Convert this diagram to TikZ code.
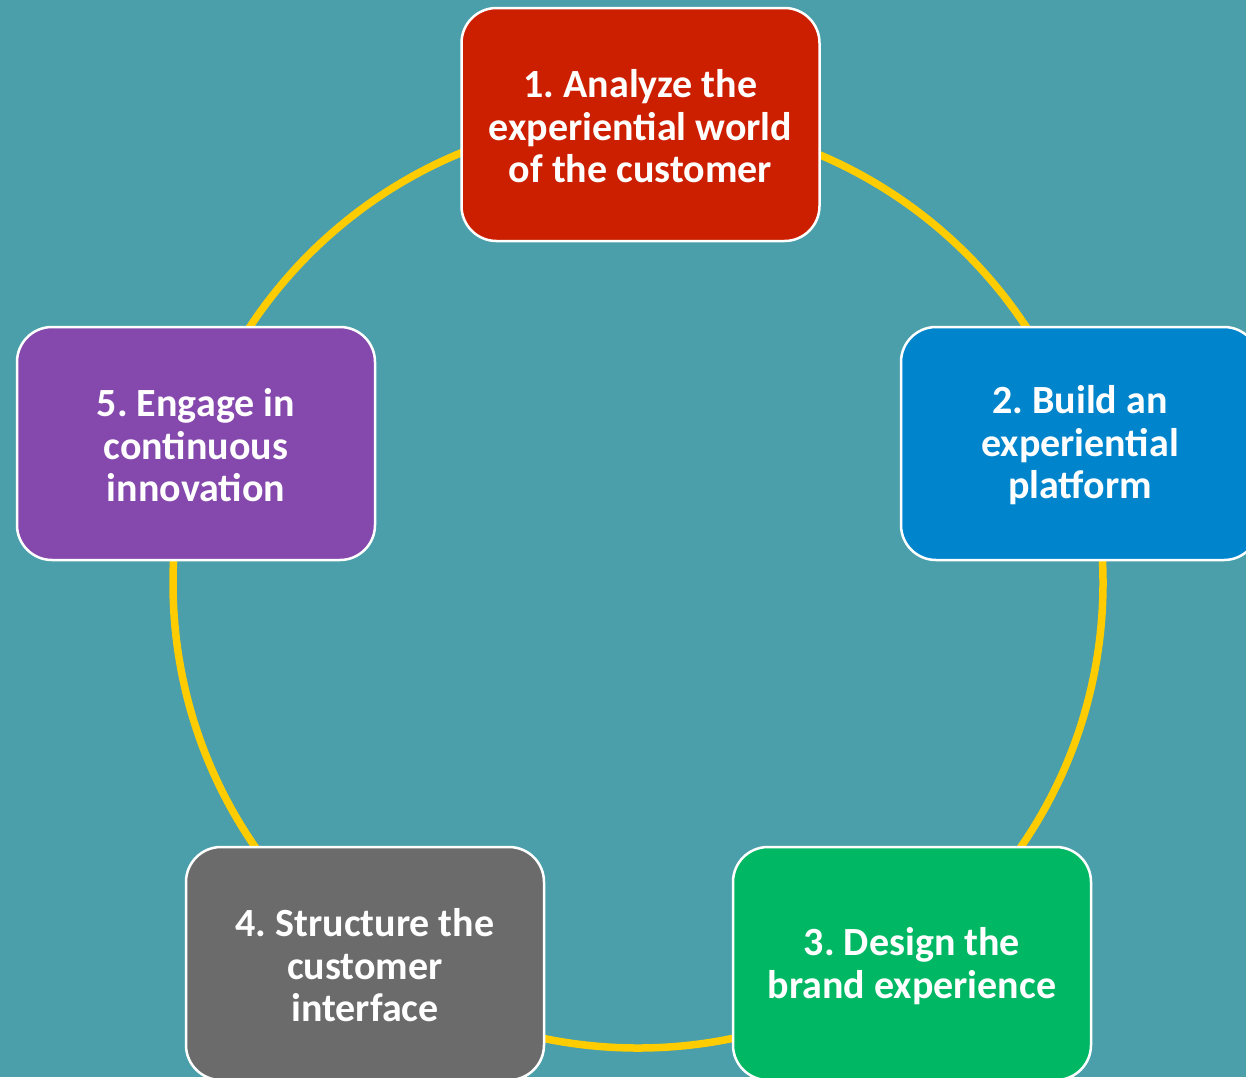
\documentclass[tikz,border=0pt]{standalone}
\usepackage{fontspec}
\setmainfont{Carlito}
\frenchspacing
\definecolor{bgteal}{HTML}{4A9FAA}
\definecolor{ringyellow}{HTML}{FFCC00}
\definecolor{boxred}{HTML}{CC1F00}
\definecolor{boxblue}{HTML}{0085CC}
\definecolor{boxgreen}{HTML}{00B863}
\definecolor{boxgrey}{HTML}{6B6B6B}
\definecolor{boxpurple}{HTML}{8549AD}
\begin{document}
\begin{tikzpicture}[x=1pt,y=-1pt,
  stepbox/.style={draw=white, line width=2.5pt, rounded corners=35pt,
    minimum width=358pt, minimum height=233pt, inner sep=0pt,
    text=white, align=center,
    font=\fontsize{40}{42.5}\selectfont\bfseries\frenchspacing},
  ring/.style={draw=ringyellow, line width=7.5pt}]
\useasboundingbox (0,0) rectangle (1246,1077);
\clip (0,0) rectangle (1246,1077);
\fill[bgteal] (0,0) rectangle (1246,1077);
\coordinate (c) at (638,583);
\draw[ring] (c) circle[radius=465pt];
\node[stepbox, fill=boxred] (s1) at (640.5,124.5) {};
\node[text=white, align=center, font=\fontsize{40}{42.5}\selectfont\bfseries] (t1) at (640.5,126.5) {1. Analyze the\\experiential world\\of the customer};
\node[stepbox, fill=boxblue] (s2) at (1080,443.5) {};
\node[text=white, align=center, font=\fontsize{40}{42.5}\selectfont\bfseries] (t2) at (1080,445.5) {2. Build an\\experiential\\platform};
\node[stepbox, fill=boxgreen] (s3) at (912,963.5) {};
\node[text=white, align=center, font=\fontsize{40}{42.5}\selectfont\bfseries] (t3) at (912,966) {3. Design the\\brand experience};
\node[stepbox, fill=boxgrey] (s4) at (365,963.5) {};
\node[text=white, align=center, font=\fontsize{40}{42.5}\selectfont\bfseries] (t4) at (365,965.5) {4. Structure the\\customer\\interface};
\node[stepbox, fill=boxpurple] (s5) at (196,443.5) {};
\node[text=white, align=center, font=\fontsize{40}{42.5}\selectfont\bfseries] (t5) at (196,445.5) {5. Engage in\\continuous\\innovation};
\end{tikzpicture}
\end{document}
